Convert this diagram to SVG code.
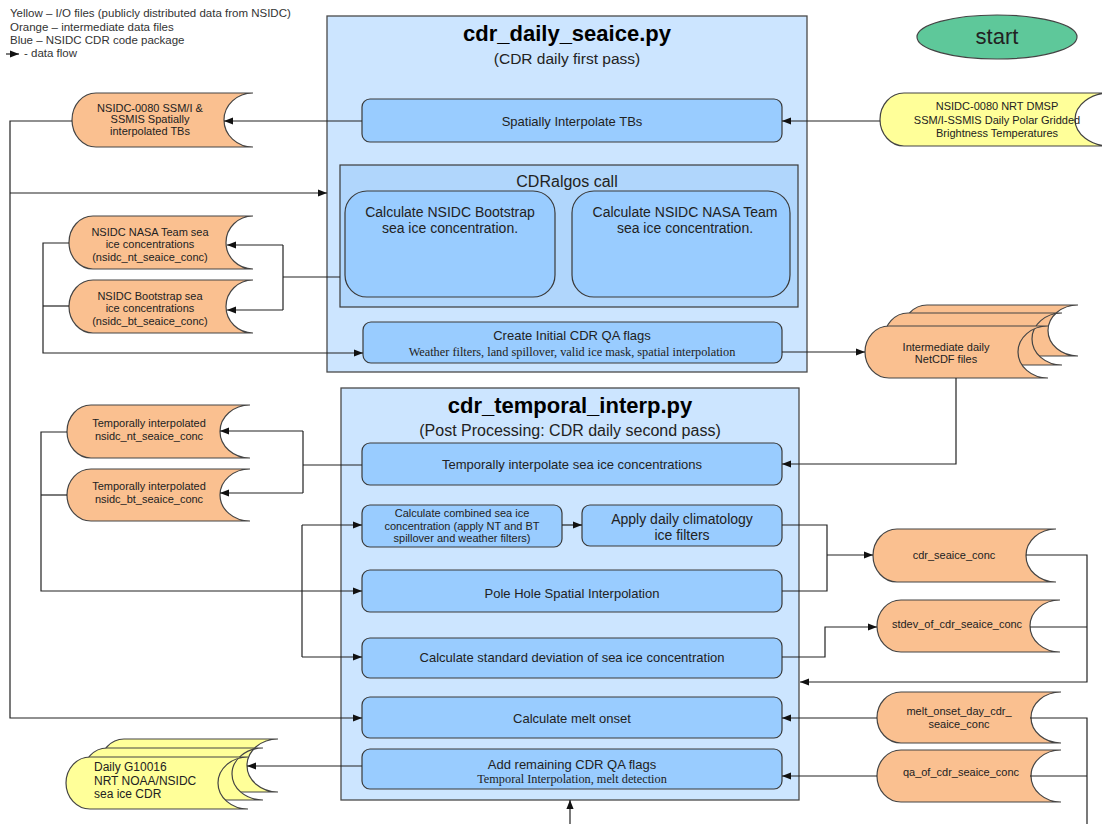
<svg xmlns="http://www.w3.org/2000/svg" width="1102" height="824" viewBox="0 0 1102 824">
<defs>
<marker id="arr" viewBox="0 0 10 10" refX="10" refY="5" markerWidth="9" markerHeight="9" markerUnits="userSpaceOnUse" orient="auto"><path d="M0,1 L10,5 L0,9 z" fill="#111"/></marker>
</defs>
<style>
.c{fill:#cce5ff;stroke:#4a4a4a;stroke-width:1.3}
.in{fill:#b0d6fc;stroke:#3a3a3a;stroke-width:1.2}
.p{fill:#99ccff;stroke:#3a3a3a;stroke-width:1.2}
.fo{fill:#fac090;stroke:#444;stroke-width:1.2}
.fy{fill:#ffff99;stroke:#444;stroke-width:1.2}
.ln{fill:none;stroke:#222;stroke-width:1.2}
.a{marker-end:url(#arr)}
text{font-family:"Liberation Sans",Arial,sans-serif;fill:#222;text-anchor:middle;dominant-baseline:central}
.t1{font-size:22px;font-weight:bold;fill:#000}
.t2{font-size:15.5px}
.b13{font-size:13px}
.b14{font-size:14px}
.s11{font-size:11px}
.f11{font-size:11px}
.sf{font-family:"Liberation Serif","Times New Roman",serif;font-size:12.3px}
.lg{font-size:11.5px;text-anchor:start;fill:#333}
</style>

<!-- legend -->
<g id="legend">
<text class="lg" x="10" y="13">Yellow – I/O files (publicly distributed data from NSIDC)</text>
<text class="lg" x="10" y="27">Orange – intermediate data files</text>
<text class="lg" x="10" y="40">Blue – NSIDC  CDR code package</text>
<text class="lg" x="24" y="53">- data flow</text>
<path class="ln a" d="M6,54 H19"/>
</g>

<!-- containers -->
<g id="daily_seaice">
<rect class="c" x="327" y="16" width="480" height="356"/>
<text class="t1" x="567" y="33">cdr_daily_seaice.py</text>
<text class="t2" x="567" y="58">(CDR daily first pass)</text>
</g>
<g id="temporal_interp">
<rect class="c" x="341" y="388" width="458" height="412"/>
<text class="t1" x="570" y="405">cdr_temporal_interp.py</text>
<text class="t2" x="570" y="430" style="font-size:16px">(Post Processing: CDR daily second pass)</text>
</g>

<g id="start">
<ellipse cx="997" cy="37" rx="80" ry="22" fill="#5ec89a" stroke="#444" stroke-width="1.2"/>
<text x="997" y="36" style="font-size:22px">start</text>
</g>

<g id="spatial_interp">
<rect class="p" x="362" y="99" width="420" height="43" rx="8"/>
<text class="b13" x="572" y="121">Spatially Interpolate TBs</text>
</g>

<g id="cdralgos">
<rect class="in" x="340" y="165" width="458" height="142"/>
<text x="567" y="181" style="font-size:16px">CDRalgos call</text>
</g>
<g id="calc_bt">
<rect class="p" x="345" y="191" width="210" height="106" rx="22"/>
<text class="b14" x="450" y="212">Calculate NSIDC Bootstrap</text>
<text class="b14" x="450" y="228">sea ice concentration.</text>
</g>
<g id="calc_nt">
<rect class="p" x="572" y="191" width="218" height="106" rx="22"/>
<text class="b14" x="685" y="212">Calculate NSIDC NASA Team</text>
<text class="b14" x="685" y="228">sea ice concentration.</text>
</g>

<g id="initial_qa">
<rect class="p" x="363" y="322" width="419" height="41" rx="8"/>
<text class="b13" x="572" y="335">Create Initial CDR QA flags</text>
<text class="sf" x="572" y="352">Weather filters, land spillover, valid ice mask, spatial interpolation</text>
</g>

<g id="temporal_box">
<rect class="p" x="362" y="443" width="420" height="42" rx="8"/>
<text class="b13" x="572" y="464">Temporally interpolate sea ice concentrations</text>
</g>
<g id="combined">
<rect class="p" x="362" y="505" width="200" height="42" rx="8"/>
<text class="s11" x="462" y="513">Calculate combined sea ice</text>
<text class="s11" x="462" y="526">concentration (apply NT and BT</text>
<text class="s11" x="462" y="538">spillover and weather filters)</text>
</g>
<g id="climatology">
<rect class="p" x="582" y="505" width="200" height="41" rx="8"/>
<text class="b14" x="682" y="519">Apply daily climatology</text>
<text class="b14" x="682" y="535">ice filters</text>
</g>
<g id="pole_hole">
<rect class="p" x="362" y="570" width="420" height="42" rx="8"/>
<text class="b13" x="572" y="593">Pole Hole Spatial Interpolation</text>
</g>
<g id="stdev_box">
<rect class="p" x="362" y="638" width="420" height="40" rx="8"/>
<text class="b13" x="572" y="657">Calculate standard deviation of sea ice concentration</text>
</g>
<g id="melt_box">
<rect class="p" x="362" y="697" width="420" height="41" rx="8"/>
<text class="b13" x="572" y="718">Calculate melt onset</text>
</g>
<g id="remaining_qa">
<rect class="p" x="362" y="749" width="420" height="40" rx="8"/>
<text class="b13" x="572" y="764">Add remaining CDR QA flags</text>
<text class="sf" x="572" y="779">Temporal Interpolation, melt detection</text>
</g>

<!-- files -->
<g id="f_ssmi">
<path class="fo" d="M96,93 H253 A29,27 0 0 0 253,147 H96 A24,27 0 0 1 96,93 Z"/>
<text class="f11" x="150" y="108">NSIDC-0080  SSM/I &amp;</text>
<text class="f11" x="150" y="119">SSMIS  Spatially</text>
<text class="f11" x="150" y="131">interpolated TBs</text>
</g>
<g id="f_nrt">
<path class="fy" d="M904,93 H1110 A35,26.5 0 0 0 1110,146 H904 A24,26.5 0 0 1 904,93 Z"/>
<text class="f11" x="997" y="106">NSIDC-0080  NRT DMSP</text>
<text class="f11" x="997" y="120">SSM/I-SSMIS  Daily Polar Gridded</text>
<text class="f11" x="997" y="133">Brightness Temperatures</text>
</g>
<g id="f_nt">
<path class="fo" d="M93,216 H253 A27,26.5 0 0 0 253,269 H93 A24,26.5 0 0 1 93,216 Z"/>
<text class="f11" x="150" y="232">NSIDC  NASA Team  sea</text>
<text class="f11" x="150" y="244">ice concentrations</text>
<text class="f11" x="150" y="257">(nsidc_nt_seaice_conc)</text>
</g>
<g id="f_bt">
<path class="fo" d="M93,280 H253 A27,26.5 0 0 0 253,333 H93 A24,26.5 0 0 1 93,280 Z"/>
<text class="f11" x="150" y="296">NSIDC  Bootstrap sea</text>
<text class="f11" x="150" y="308">ice concentrations</text>
<text class="f11" x="150" y="321">(nsidc_bt_seaice_conc)</text>
</g>
<g id="f_intermediate">
<path class="fo" d="M927,305 H1078 A30,25.5 0 0 0 1078,356 H927 A24,25.5 0 0 1 927,305 Z"/>
<path class="fo" d="M908,313 H1062 A30,26 0 0 0 1062,365 H908 A24,26 0 0 1 908,313 Z"/>
<path class="fo" d="M889,326 H1048 A30,26 0 0 0 1048,378 H889 A24,26 0 0 1 889,326 Z"/>
<text class="f11" x="946" y="347">Intermediate daily</text>
<text class="f11" x="946" y="359">NetCDF  files</text>
</g>
<g id="f_tnt">
<path class="fo" d="M91,405 H250 A30,26.5 0 0 0 250,458 H91 A24,26.5 0 0 1 91,405 Z"/>
<text class="f11" x="149" y="423">Temporally interpolated</text>
<text class="f11" x="149" y="436">nsidc_nt_seaice_conc</text>
</g>
<g id="f_tbt">
<path class="fo" d="M91,469 H250 A30,26 0 0 0 250,521 H91 A24,26 0 0 1 91,469 Z"/>
<text class="f11" x="149" y="486">Temporally interpolated</text>
<text class="f11" x="149" y="499">nsidc_bt_seaice_conc</text>
</g>
<g id="f_cdr">
<path class="fo" d="M897,529 H1056 A30,26.5 0 0 0 1056,582 H897 A24,26.5 0 0 1 897,529 Z"/>
<text class="f11" x="954" y="555">cdr_seaice_conc</text>
</g>
<g id="f_stdev">
<path class="fo" d="M901,600 H1060 A30,26 0 0 0 1060,652 H901 A24,26 0 0 1 901,600 Z"/>
<text class="f11" x="957" y="624">stdev_of_cdr_seaice_conc</text>
</g>
<g id="f_melt">
<path class="fo" d="M901,692 H1061 A30,25.5 0 0 0 1061,743 H901 A24,25.5 0 0 1 901,692 Z"/>
<text class="f11" x="959" y="711">melt_onset_day_cdr_</text>
<text class="f11" x="959" y="724">seaice_conc</text>
</g>
<g id="f_qa">
<path class="fo" d="M901,750 H1061 A30,26 0 0 0 1061,802 H901 A24,26 0 0 1 901,750 Z"/>
<text class="f11" x="961" y="772">qa_of_cdr_seaice_conc</text>
</g>
<g id="f_g10016">
<path class="fy" d="M124,739 H278 A31,26.5 0 0 0 278,792 H124 A24,26.5 0 0 1 124,739 Z"/>
<path class="fy" d="M107,748 H263 A31,26 0 0 0 263,800 H107 A24,26 0 0 1 107,748 Z"/>
<path class="fy" d="M90,757 H248 A30,26 0 0 0 248,809 H90 A24,26 0 0 1 90,757 Z"/>
<text class="f11" x="94" y="767" style="text-anchor:start;font-size:12px">Daily G10016</text>
<text class="f11" x="94" y="781" style="text-anchor:start;font-size:12px">NRT NOAA/NSIDC</text>
<text class="f11" x="94" y="794" style="text-anchor:start;font-size:12px">sea ice CDR</text>
</g>

<!-- connectors -->
<g id="connectors">
<path class="ln a" d="M362,121 H224"/>
<path class="ln a" d="M880,121 H782"/>
<path class="ln a" d="M72,121 H10 V718 H362"/>
<path class="ln a" d="M10,193 H327"/>
<path class="ln" d="M340,277 H283 M283,245 V310"/>
<path class="ln a" d="M283,245 H227"/>
<path class="ln a" d="M283,310 H227"/>
<path class="ln" d="M69,306 H43"/>
<path class="ln a" d="M69,243 H43 V353 H363"/>
<path class="ln a" d="M782,352 H865"/>
<path class="ln a" d="M956,378 V464 H782"/>
<path class="ln" d="M362,465 H303 M303,431 V493"/>
<path class="ln a" d="M303,431 H220"/>
<path class="ln a" d="M303,493 H220"/>
<path class="ln" d="M67,495 H41"/>
<path class="ln a" d="M67,432 H41 V591 H362"/>
<path class="ln" d="M302,525 V657"/>
<path class="ln a" d="M302,525 H362"/>
<path class="ln a" d="M302,657 H362"/>
<path class="ln a" d="M562,525 H582"/>
<path class="ln" d="M782,525 H827 V591 H782"/>
<path class="ln a" d="M827,555 H873"/>
<path class="ln a" d="M782,657 H825 V627 H877"/>
<path class="ln" d="M1030,627 H1087"/>
<path class="ln a" d="M1026,555 H1087 V682 H800"/>
<path class="ln a" d="M877,718 H782"/>
<path class="ln a" d="M877,776 H782"/>
<path class="ln" d="M1030,718 H1087 V824 M1030,776 H1087"/>
<path class="ln a" d="M362,766 H247"/>
<path class="ln a" d="M570,824 V800"/>
</g>
</svg>
